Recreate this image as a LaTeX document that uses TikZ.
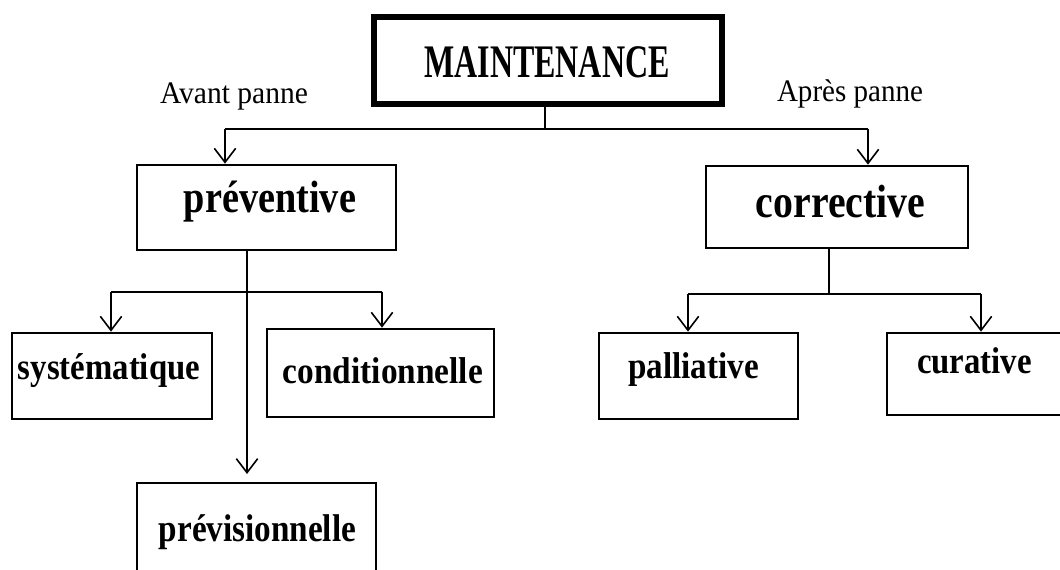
\documentclass[tikz,border=0pt]{standalone}
\usepackage{fontspec}
\usepackage{graphicx}
\setmainfont{Liberation Serif}
\usetikzlibrary{arrows.meta}
\newcommand\fitw[3]{\fontsize{#1}{#1}\selectfont\resizebox{#2}{\height}{#3}}
\begin{document}
\begin{tikzpicture}[x=0.75pt,y=-0.75pt,
  box/.style={draw=black,line width=2pt,rectangle,inner sep=0pt,fill=white},
  mainbox/.style={draw=black,line width=3.8pt,rectangle,inner sep=0pt},
  lbl/.style={anchor=base,inner sep=0pt,font=\bfseries},
  side/.style={anchor=base,inner sep=0pt},
  conn/.style={line width=1.4pt},
  arr/.style={line width=1.4pt,-{Straight Barb[length=10.5pt,width=16pt,line width=1.2pt]}}]
\useasboundingbox (0,0) rectangle (1060,570);
\fill[white] (0,0) rectangle (1060,570);
% boxes
\node[mainbox,minimum width=261pt,minimum height=65.25pt] (main) at (548,60.5) {};
\node[box,minimum width=194.25pt,minimum height=63.75pt] (prev) at (266.5,207.5) {};
\node[box,minimum width=196.5pt,minimum height=61.5pt] (corr) at (837,207) {};
\node[box,minimum width=150pt,minimum height=64.5pt] (syst) at (112,376) {};
\node[box,minimum width=170.25pt,minimum height=66pt] (cond) at (380.5,373) {};
\node[box,minimum width=179.25pt,minimum height=69pt] (previs) at (256.5,529) {};
\node[box,minimum width=149.25pt,minimum height=64.5pt] (pall) at (698.5,376) {};
\node[box,minimum width=131.25pt,minimum height=61.5pt] (cura) at (974.5,374) {};
% texts
\node[lbl] (tmain) at (547,78) {\fitw{35pt}{184pt}{MAINTENANCE}};
\node[lbl] (tprev) at (270,213) {\fitw{34pt}{129pt}{préventive}};
\node[lbl] (tcorr) at (840.5,218) {\fitw{35pt}{127pt}{corrective}};
\node[lbl] (tsyst) at (109,379) {\fitw{28pt}{136.5pt}{systématique}};
\node[lbl] (tcond) at (383,383) {\fitw{28pt}{150pt}{conditionnelle}};
\node[lbl] (tprevis) at (257.5,541) {\fitw{29pt}{148pt}{prévisionnelle}};
\node[lbl] (tpall) at (693.5,378) {\fitw{28pt}{98pt}{palliative}};
\node[lbl] (tcura) at (974.5,373) {\fitw{28pt}{86pt}{curative}};
\node[side] (avant) at (234,104) {\fitw{23.5pt}{111pt}{Avant panne}};
\node[side] (apres) at (850,102) {\fitw{23.5pt}{109.5pt}{Après panne}};
% junction coordinates
\coordinate (j0) at (545,129);
\coordinate (jl) at (225,129);
\coordinate (jr) at (868,129);
\coordinate (p0) at (247,292);
\coordinate (pl) at (111,292);
\coordinate (pr) at (382,292);
\coordinate (pd) at (247,474);
\coordinate (c0) at (829,294);
\coordinate (cl) at (688,294);
\coordinate (cr) at (981,294);
% connectors
\draw[conn] (j0 |- main.south) -- (j0);
\draw[conn] (jl) -- (jr);
\draw[arr] (jl) -- (jl |- prev.north);
\draw[arr] (jr) -- (jr |- corr.north);
\draw[conn] (p0 |- prev.south) -- (p0);
\draw[conn] (pl) -- (pr);
\draw[arr] (pl) -- (pl |- syst.north);
\draw[arr] (pr) -- (pr |- cond.north);
\draw[arr] (p0) -- (pd);
\draw[conn] (c0 |- corr.south) -- (c0);
\draw[conn] (cl) -- (cr);
\draw[arr] (cl) -- (cl |- pall.north);
\draw[arr] (cr) -- (cr |- cura.north);
\end{tikzpicture}
\end{document}
